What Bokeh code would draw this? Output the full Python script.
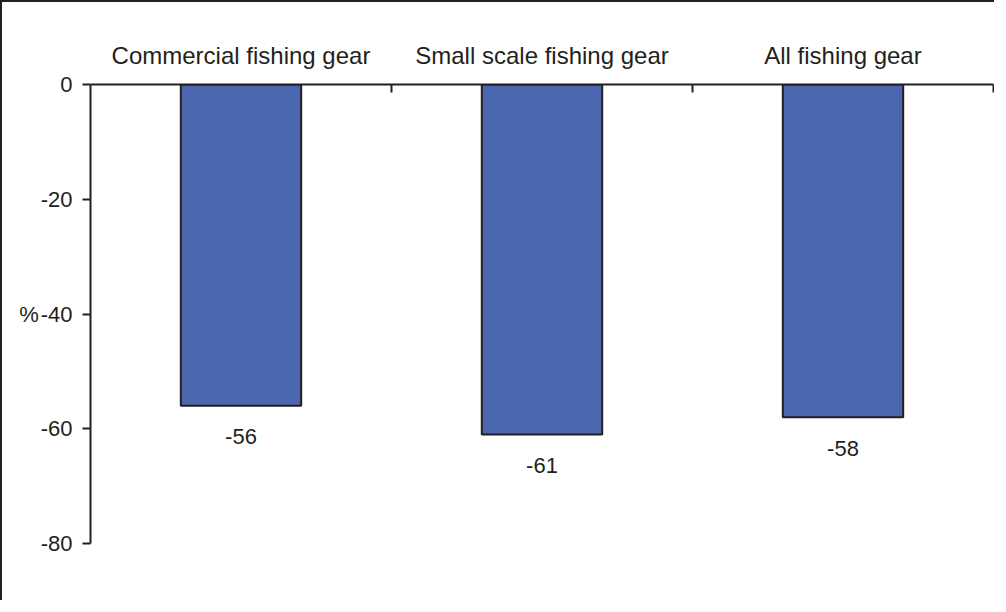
from bokeh.plotting import figure
from bokeh.models import Range1d, LinearAxis, FixedTicker, ColumnDataSource
from bokeh.core.properties import value
from bokeh.embed import file_html
from bokeh.resources import INLINE

# ---- data ----
categories = ["Commercial fishing gear", "Small scale fishing gear", "All fishing gear"]
values = [-56, -61, -58]
y_ticks = [0, -20, -40, -60, -80]
y_title = "%"

INK = "#231f20"
BAR = "#4a66ae"
FONT = "Liberation Sans"

centers = [2 * i + 1 for i in range(len(categories))]
bounds = [2 * i + 2 for i in range(len(categories))]

src = ColumnDataSource(dict(x=centers, top=[0] * len(values), bottom=values,
                            label=[str(v) for v in values]))

p = figure(width=994, height=600, output_backend="svg", toolbar_location=None,
           x_range=Range1d(0, 2 * len(categories)), y_range=Range1d(-80, 0),
           x_axis_location=None, y_axis_location=None,
           min_border_left=88, min_border_top=82, min_border_right=3, min_border_bottom=59)
p.styles = {"border-left": f"2px solid {INK}", "border-top": f"2px solid {INK}"}
p.outline_line_color = None
p.xgrid.visible = False
p.ygrid.visible = False

p.vbar(x="x", top="top", bottom="bottom", width=0.8, source=src,
       fill_color=BAR, line_color=INK, line_width=2)

p.text(x="x", y="bottom", text="label", source=src, y_offset=31,
       text_align="center", text_baseline="middle",
       text_font=value(FONT), text_font_size="22px", text_color=INK)

# top category axis
xa = LinearAxis(ticker=FixedTicker(ticks=centers, minor_ticks=bounds))
xa.major_label_overrides = {c: lab for c, lab in zip(centers, categories)}
xa.major_tick_in = 0
xa.major_tick_out = 0
xa.minor_tick_in = 8
xa.minor_tick_out = 0
xa.minor_tick_line_color = INK
xa.minor_tick_line_width = 2
xa.axis_line_color = INK
xa.axis_line_width = 2
xa.major_label_standoff = 16
xa.major_label_text_font = FONT
xa.major_label_text_font_size = "24px"
xa.major_label_text_color = INK
p.add_layout(xa, "above")

# left value axis
ya = LinearAxis(ticker=FixedTicker(ticks=y_ticks))
ya.major_label_overrides = {t: str(t) for t in y_ticks}
ya.major_tick_in = 0
ya.major_tick_out = 8
ya.major_tick_line_color = INK
ya.major_tick_line_width = 2
ya.minor_tick_line_color = None
ya.axis_line_color = INK
ya.axis_line_width = 2
ya.major_label_standoff = 10
ya.major_label_text_font = FONT
ya.major_label_text_font_size = "22px"
ya.major_label_text_color = INK
ya.axis_label = y_title
ya.axis_label_orientation = "horizontal"
ya.axis_label_standoff = -1
ya.axis_label_text_font = FONT
ya.axis_label_text_font_size = "22px"
ya.axis_label_text_font_style = "normal"
ya.axis_label_text_color = INK
p.add_layout(ya, "left")

open("out.html", "w").write(file_html(p, INLINE))
